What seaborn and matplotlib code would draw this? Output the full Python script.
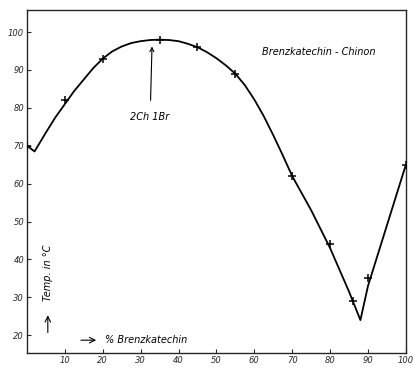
import numpy as np
import pandas as pd
import seaborn as sns
import matplotlib
matplotlib.use("Agg")
import matplotlib.pyplot as plt

# measured points (+ markers)
pct_meas = [0, 10, 20, 35, 45, 55, 70, 80, 86, 90, 100]
temp_meas = [70, 82, 93, 98, 96, 89, 62, 44, 29, 35, 65]

# drawn curve
pct_curve = [0, 2, 5, 7.5, 10, 12.5, 15, 17.5, 20, 22.5, 25, 27.5, 30, 32.5, 35, 37.5, 40,
             42.5, 45, 47.5, 50, 52.5, 55, 57.5, 60, 62.5, 65, 67.5, 70, 75, 80, 85, 88,
             90, 95, 100]
temp_curve = [70, 68.5, 73.5, 77.5, 81, 84.5, 87.5, 90.5, 93, 94.9, 96.2, 97.1, 97.6, 97.9,
              98, 97.9, 97.6, 96.9, 96, 94.7, 93.1, 91.2, 89, 86, 82.2, 77.8, 72.8, 67.5,
              62, 53, 43, 31.5, 24, 33, 49, 65]

x_ticks = [10, 20, 30, 40, 50, 60, 70, 80, 90, 100]
y_ticks = [20, 30, 40, 50, 60, 70, 80, 90, 100]

curve = pd.DataFrame({"pct": pct_curve, "temp": temp_curve})
meas = pd.DataFrame({"pct": pct_meas, "temp": temp_meas})

sns.set_style("ticks")
plt.rcParams["font.family"] = ["DejaVu Sans"]

fig = plt.figure(figsize=(4.15, 3.74), dpi=100)
ax = fig.add_axes([0.065, 0.056, 0.913, 0.917])

sns.lineplot(data=curve, x="pct", y="temp", color="black", linewidth=1.3, ax=ax, sort=False)
sns.scatterplot(data=meas, x="pct", y="temp", marker="+", color="black", s=32,
                linewidth=1.1, ax=ax, zorder=3)

ax.set_xlim(0, 100)
ax.set_ylim(15.3, 105.8)
ax.set_xticks(x_ticks)
ax.set_yticks(y_ticks)
ax.set_xticklabels([str(t) for t in x_ticks], fontsize=6, style="italic")
ax.set_yticklabels([str(t) for t in y_ticks], fontsize=6, style="italic")
ax.tick_params(direction="in", length=3, width=0.8, pad=2)
ax.set_xlabel("")
ax.set_ylabel("")
for s in ax.spines.values():
    s.set_linewidth(1.0)

txt = dict(fontsize=7, style="italic", color="black")
ax.text(77, 94.7, "Brenzkatechin - Chinon", ha="center", va="center", **txt)
ax.annotate("2Ch 1Br", xy=(33, 96.2), xytext=(32.5, 77.6), ha="center", va="center",
            arrowprops=dict(arrowstyle="->", color="black", lw=0.8,
                            shrinkA=6, shrinkB=0), **txt)
ax.annotate("", xy=(19, 18.7), xytext=(13.5, 18.7),
            arrowprops=dict(arrowstyle="->", color="black", lw=0.8))
ax.text(20.6, 18.7, "% Brenzkatechin", ha="left", va="center", **txt)
ax.annotate("", xy=(5.5, 26), xytext=(5.5, 20),
            arrowprops=dict(arrowstyle="->", color="black", lw=0.8))
ax.text(5.5, 36.5, "Temp. in °C", rotation=90, ha="center", va="center", **txt)

fig.savefig("out.png", dpi=100)
